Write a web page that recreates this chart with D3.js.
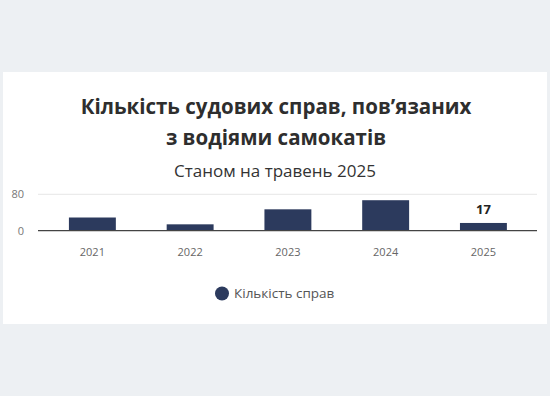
<!DOCTYPE html>
<html>
<head>
<meta charset="utf-8">
<script src="https://cdn.jsdelivr.net/npm/d3@7"></script>
<style>
  html, body { margin: 0; padding: 0; background: #edf0f3; }
  svg { display: block; }
</style>
</head>
<body>
<svg id="chart" width="550" height="396"></svg>
<script>
const titleLines = ["Кількість судових справ, пов’язаних", "з водіями самокатів"];
const subtitle = "Станом на травень 2025";
const years = ["2021", "2022", "2023", "2024", "2025"];
const cases = [29, 14, 47, 67, 17];
const labelledYears = ["2025"];
const yTicks = [0, 80];
const seriesName = "Кількість справ";

const barColor = "#2c3a5d";
const svg = d3.select("#chart");

// panel
svg.append("rect").attr("x", 3).attr("y", 72).attr("width", 544).attr("height", 252)
  .attr("fill", "#ffffff");

// title
const title = svg.append("text").attr("text-anchor", "middle")
  .attr("font-family", "'Open Sans', sans-serif").attr("font-weight", 700)
  .attr("font-size", 20.5).attr("fill", "#2e2e2e");
titleLines.forEach((t, i) => {
  title.append("tspan").attr("x", 276).attr("y", 114 + i * 31).text(t);
});
svg.append("text").attr("x", 275).attr("y", 177).attr("text-anchor", "middle")
  .attr("font-family", "'Open Sans', sans-serif").attr("font-size", 17)
  .attr("fill", "#333").text(subtitle);

// scales
const x = d3.scaleBand().domain(years).range([43.5, 532.3])
  .paddingInner(0.52).paddingOuter(0.26);
const y = d3.scaleLinear().domain([0, 80]).range([230.7, 194.3]);

// gridlines
svg.append("g").selectAll("line").data(yTicks.filter(d => d !== 0)).join("line")
  .attr("x1", 38).attr("x2", 537)
  .attr("y1", d => y(d)).attr("y2", d => y(d))
  .attr("stroke", "#e6e6e6").attr("stroke-width", 1);

// y labels
svg.append("g").selectAll("text").data(yTicks).join("text")
  .attr("x", 24).attr("y", d => y(d)).attr("dy", "0.35em")
  .attr("text-anchor", "end")
  .attr("font-family", "'Open Sans', sans-serif").attr("font-size", 11)
  .attr("fill", "#777").text(d => d);

// bars
svg.append("g").selectAll("rect").data(years).join("rect")
  .attr("x", d => x(d)).attr("width", x.bandwidth())
  .attr("y", (d, i) => y(cases[i]))
  .attr("height", (d, i) => y(0) - y(cases[i]))
  .attr("fill", barColor);

// baseline
svg.append("line").attr("x1", 38).attr("x2", 537)
  .attr("y1", y(0)).attr("y2", y(0))
  .attr("stroke", "#444").attr("stroke-width", 1.3);

// value labels
svg.append("g").selectAll("text").data(years.filter(d => labelledYears.includes(d))).join("text")
  .attr("x", d => x(d) + x.bandwidth() / 2)
  .attr("y", d => y(cases[years.indexOf(d)]) - 9)
  .attr("text-anchor", "middle")
  .attr("font-family", "'Open Sans', sans-serif").attr("font-weight", 700)
  .attr("font-size", 13).attr("fill", "#222")
  .text(d => cases[years.indexOf(d)]);

// x axis labels
svg.append("g").selectAll("text").data(years).join("text")
  .attr("x", d => x(d) + x.bandwidth() / 2).attr("y", 256)
  .attr("text-anchor", "middle")
  .attr("font-family", "'Open Sans', sans-serif").attr("font-size", 11)
  .attr("fill", "#666").text(d => d);

// legend
const lg = svg.append("g");
lg.append("circle").attr("cx", 222).attr("cy", 293.5).attr("r", 7).attr("fill", barColor);
lg.append("text").attr("x", 234).attr("y", 293.5).attr("dy", "0.35em")
  .attr("font-family", "'Open Sans', sans-serif").attr("font-size", 13.5)
  .attr("fill", "#555").text(seriesName);
</script>
</body>
</html>
